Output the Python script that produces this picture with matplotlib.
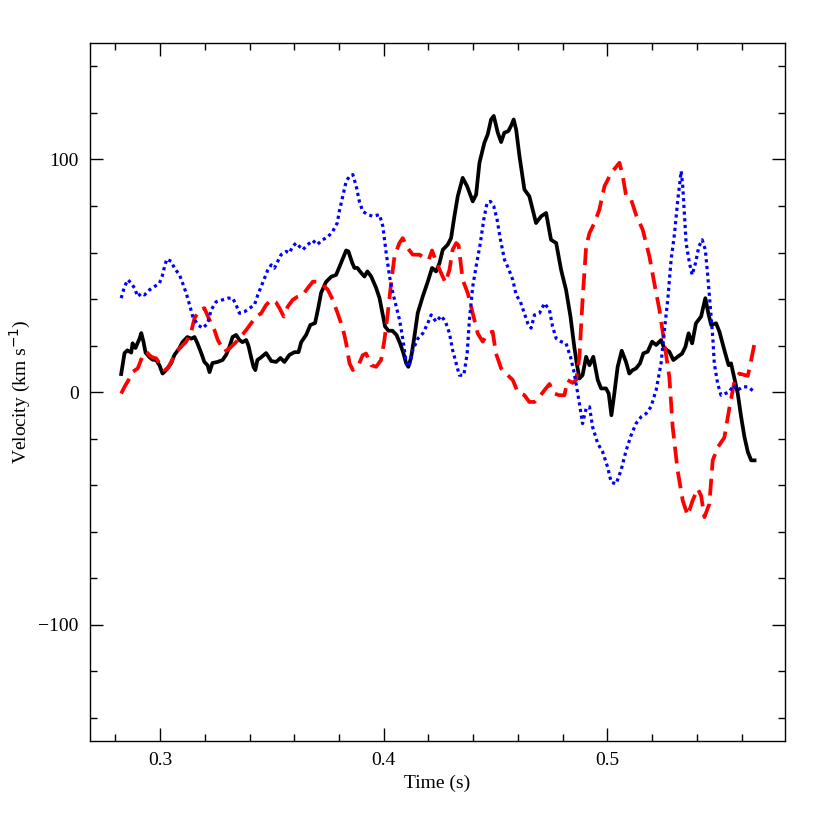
import numpy as np
import matplotlib
matplotlib.use("Agg")
import matplotlib.pyplot as plt
from matplotlib.ticker import MultipleLocator

plt.rcParams["font.family"] = ["Liberation Serif", "DejaVu Serif"]

# solid black series
black_t = [0.2826, 0.2841, 0.2854, 0.2871, 0.2877, 0.2890, 0.2908, 0.2916, 0.2926, 0.2935,
           0.2953, 0.2966, 0.2983, 0.2997, 0.3011, 0.3027, 0.3050, 0.3064, 0.3087, 0.3100,
           0.3122, 0.3139, 0.3154, 0.3167, 0.3184, 0.3198, 0.3212, 0.3221, 0.3234, 0.3257,
           0.3279, 0.3295, 0.3310, 0.3324, 0.3340, 0.3355, 0.3368, 0.3385, 0.3395, 0.3407,
           0.3418, 0.3426, 0.3435, 0.3452, 0.3474, 0.3497, 0.3519, 0.3538, 0.3556, 0.3578,
           0.3601, 0.3619, 0.3631, 0.3653, 0.3672, 0.3693, 0.3708, 0.3720, 0.3742, 0.3765,
           0.3787, 0.3802, 0.3815, 0.3832, 0.3842, 0.3859, 0.3869, 0.3882, 0.3899, 0.3914,
           0.3927, 0.3944, 0.3966, 0.3981, 0.3994, 0.4006, 0.4021, 0.4039, 0.4057, 0.4073,
           0.4088, 0.4100, 0.4110, 0.4122, 0.4137, 0.4152, 0.4174, 0.4197, 0.4216, 0.4234,
           0.4249, 0.4264, 0.4286, 0.4301, 0.4316, 0.4331, 0.4353, 0.4373, 0.4398, 0.4413,
           0.4428, 0.4450, 0.4465, 0.4480, 0.4492, 0.4510, 0.4525, 0.4539, 0.4557, 0.4569,
           0.4581, 0.4592, 0.4607, 0.4629, 0.4651, 0.4681, 0.4704, 0.4726, 0.4748, 0.4771,
           0.4793, 0.4815, 0.4835, 0.4852, 0.4863, 0.4875, 0.4889, 0.4905, 0.4920, 0.4937,
           0.4957, 0.4972, 0.4994, 0.5006, 0.5018, 0.5031, 0.5046, 0.5064, 0.5083, 0.5098,
           0.5113, 0.5128, 0.5146, 0.5161, 0.5180, 0.5200, 0.5218, 0.5240, 0.5255, 0.5277,
           0.5295, 0.5314, 0.5334, 0.5349, 0.5363, 0.5379, 0.5396, 0.5419, 0.5438, 0.5453,
           0.5464, 0.5486, 0.5501, 0.5523, 0.5542, 0.5553, 0.5568, 0.5583, 0.5598, 0.5613,
           0.5628, 0.5643, 0.5658]
black_v = [7.8, 16.8, 18.0, 17.0, 21.0, 19.0, 23.0, 25.4, 21.5, 17.0,
           15.0, 14.0, 13.8, 11.6, 8.0, 9.5, 12.5, 16.0, 19.0, 21.5,
           23.7, 23.0, 23.7, 21.0, 16.8, 13.0, 11.6, 8.6, 12.5, 13.0,
           13.8, 16.0, 19.4, 23.7, 24.6, 22.4, 21.5, 22.4, 20.0, 15.0,
           10.8, 9.5, 13.8, 15.0, 16.8, 13.4, 13.0, 14.7, 13.0, 16.0,
           17.2, 17.2, 21.5, 24.6, 28.9, 29.7, 36.6, 42.7, 47.4, 49.6,
           50.4, 53.9, 56.9, 60.9, 60.5, 55.6, 53.4, 53.4, 51.3, 49.7,
           51.9, 49.7, 44.8, 40.5, 34.0, 28.2, 26.4, 26.4, 24.6, 21.0,
           16.8, 12.5, 10.9, 14.7, 23.8, 34.0, 41.0, 47.5, 53.4, 51.9,
           55.4, 61.2, 63.4, 66.2, 75.6, 84.2, 92.1, 88.5, 82.0, 84.9,
           98.6, 107.2, 110.8, 117.2, 118.7, 111.5, 107.5, 111.5, 112.2, 114.4,
           117.2, 112.9, 101.4, 87.1, 84.2, 72.7, 75.6, 77.0, 65.5, 64.1,
           52.6, 44.0, 32.5, 19.5, 12.4, 5.9, 7.3, 15.2, 11.6, 15.2,
           5.2, 1.6, 1.6, -0.6, -9.9, -0.6, 10.9, 17.8, 13.1, 8.0,
           9.5, 10.2, 12.4, 16.7, 17.4, 21.7, 20.3, 22.4, 18.8, 17.4,
           13.8, 15.2, 16.6, 19.5, 25.3, 21.0, 29.6, 32.5, 40.4, 33.2,
           28.9, 29.6, 26.0, 18.1, 11.6, 12.4, 5.9, -0.6, -10.6, -19.3,
           -25.7, -29.3, -29.3]

# dashed red series
red_t = [0.2826, 0.2841, 0.2863, 0.2878, 0.2900, 0.2923, 0.2938, 0.2960, 0.2983, 0.2997,
         0.3020, 0.3034, 0.3050, 0.3072, 0.3094, 0.3117, 0.3139, 0.3154, 0.3176, 0.3198,
         0.3221, 0.3243, 0.3258, 0.3288, 0.3310, 0.3333, 0.3355, 0.3385, 0.3407, 0.3430,
         0.3452, 0.3474, 0.3497, 0.3519, 0.3534, 0.3553, 0.3571, 0.3593, 0.3616, 0.3638,
         0.3660, 0.3683, 0.3705, 0.3727, 0.3750, 0.3772, 0.3794, 0.3817, 0.3832, 0.3847,
         0.3862, 0.3884, 0.3906, 0.3921, 0.3944, 0.3966, 0.3988, 0.4003, 0.4018, 0.4033,
         0.4048, 0.4070, 0.4085, 0.4107, 0.4130, 0.4160, 0.4182, 0.4201, 0.4216, 0.4234,
         0.4257, 0.4276, 0.4294, 0.4308, 0.4324, 0.4335, 0.4353, 0.4376, 0.4398, 0.4420,
         0.4443, 0.4465, 0.4487, 0.4502, 0.4525, 0.4547, 0.4577, 0.4599, 0.4629, 0.4651,
         0.4674, 0.4696, 0.4719, 0.4741, 0.4763, 0.4785, 0.4808, 0.4822, 0.4845, 0.4860,
         0.4875, 0.4889, 0.4905, 0.4920, 0.4942, 0.4964, 0.4987, 0.5017, 0.5054, 0.5069,
         0.5084, 0.5106, 0.5128, 0.5158, 0.5188, 0.5210, 0.5233, 0.5255, 0.5277, 0.5292,
         0.5314, 0.5337, 0.5359, 0.5381, 0.5404, 0.5419, 0.5434, 0.5456, 0.5471, 0.5494,
         0.5523, 0.5546, 0.5568, 0.5590, 0.5628, 0.5643, 0.5658]
red_v = [-0.6, 2.3, 5.9, 8.8, 10.2, 15.9, 17.4, 15.2, 14.5, 12.4,
         9.5, 10.2, 13.1, 17.4, 19.5, 21.7, 26.0, 31.8, 35.3, 36.1,
         31.0, 26.7, 22.4, 17.4, 18.8, 20.9, 23.1, 26.7, 29.6, 32.5,
         33.9, 37.5, 39.7, 38.5, 36.1, 32.5, 36.8, 39.7, 41.1, 41.8,
         44.7, 47.5, 47.5, 46.1, 44.0, 39.7, 33.9, 27.5, 21.0, 12.4,
         9.5, 10.9, 15.9, 16.6, 11.6, 10.9, 13.8, 22.4, 33.9, 46.8,
         58.3, 64.1, 66.2, 61.9, 59.1, 59.1, 57.6, 56.9, 60.9, 56.2,
         51.1, 47.1, 52.6, 61.2, 64.1, 63.0, 48.3, 42.5, 33.9, 25.3,
         21.7, 25.3, 26.0, 16.6, 10.2, 8.0, 5.2, 0.1, -1.3, -4.2,
         -4.2, -2.0, 0.9, 3.5, -0.6, -1.3, -1.3, 5.2, 4.0, 5.2,
         15.2, 39.7, 62.6, 68.4, 72.7, 78.4, 88.5, 94.2, 98.6, 92.8,
         84.2, 82.8, 76.3, 69.8, 58.3, 46.8, 35.3, 21.0, 6.5, -15.0,
         -33.6, -46.6, -53.0, -46.6, -41.5, -44.5, -53.7, -48.0, -29.3, -23.6,
         -19.5, -6.5, 4.5, 8.0, 7.0, 13.8, 21.0]

# dotted blue series
blue_t = [0.2826, 0.2841, 0.2856, 0.2871, 0.2886, 0.2900, 0.2916, 0.2930, 0.2953, 0.2975,
          0.2997, 0.3009, 0.3020, 0.3030, 0.3050, 0.3064, 0.3087, 0.3101, 0.3117, 0.3132,
          0.3146, 0.3169, 0.3191, 0.3213, 0.3228, 0.3251, 0.3280, 0.3303, 0.3325, 0.3340,
          0.3355, 0.3378, 0.3400, 0.3422, 0.3437, 0.3452, 0.3467, 0.3482, 0.3497, 0.3511,
          0.3526, 0.3541, 0.3564, 0.3578, 0.3593, 0.3608, 0.3638, 0.3660, 0.3683, 0.3702,
          0.3727, 0.3750, 0.3772, 0.3792, 0.3802, 0.3817, 0.3832, 0.3847, 0.3862, 0.3877,
          0.3891, 0.3906, 0.3929, 0.3951, 0.3981, 0.3996, 0.4011, 0.4026, 0.4041, 0.4056,
          0.4071, 0.4086, 0.4101, 0.4113, 0.4130, 0.4153, 0.4175, 0.4197, 0.4212, 0.4234,
          0.4257, 0.4276, 0.4294, 0.4308, 0.4324, 0.4338, 0.4358, 0.4373, 0.4383, 0.4398,
          0.4413, 0.4432, 0.4447, 0.4462, 0.4477, 0.4492, 0.4507, 0.4522, 0.4540, 0.4557,
          0.4577, 0.4592, 0.4611, 0.4629, 0.4644, 0.4659, 0.4674, 0.4696, 0.4719, 0.4741,
          0.4755, 0.4771, 0.4793, 0.4815, 0.4835, 0.4849, 0.4860, 0.4875, 0.4889, 0.4905,
          0.4920, 0.4934, 0.4957, 0.4979, 0.5001, 0.5017, 0.5039, 0.5061, 0.5084, 0.5106,
          0.5128, 0.5151, 0.5173, 0.5195, 0.5218, 0.5240, 0.5255, 0.5270, 0.5285, 0.5300,
          0.5315, 0.5330, 0.5337, 0.5345, 0.5352, 0.5367, 0.5379, 0.5394, 0.5409, 0.5424,
          0.5438, 0.5449, 0.5459, 0.5471, 0.5478, 0.5493, 0.5508, 0.5527, 0.5545, 0.5563,
          0.5583, 0.5605, 0.5628, 0.5647, 0.5658]
blue_v = [40.4, 45.4, 48.3, 46.8, 44.7, 41.1, 42.5, 41.8, 44.0, 45.4,
          46.8, 49.7, 54.0, 57.2, 56.2, 53.3, 50.4, 46.8, 42.5, 37.5,
          32.5, 28.9, 27.5, 29.6, 35.3, 38.9, 39.7, 40.4, 40.4, 37.5,
          33.9, 34.6, 36.1, 37.5, 41.8, 45.4, 49.0, 52.6, 54.7, 53.3,
          56.2, 59.1, 60.5, 59.8, 62.6, 64.1, 61.2, 63.4, 65.2, 63.4,
          65.5, 66.7, 69.1, 72.7, 78.0, 84.2, 90.6, 92.8, 93.5, 88.5,
          82.0, 77.7, 76.3, 75.6, 76.3, 71.3, 59.8, 49.7, 42.5, 36.8,
          31.0, 22.4, 12.4, 10.9, 18.1, 23.1, 25.3, 29.6, 33.2, 30.3,
          32.8, 30.3, 25.3, 18.1, 12.4, 7.3, 7.3, 16.6, 31.0, 45.4,
          54.0, 64.1, 74.1, 81.3, 82.0, 79.9, 74.1, 65.5, 56.9, 53.3,
          48.3, 41.8, 38.9, 33.9, 29.6, 27.5, 33.2, 33.9, 38.2, 35.3,
          28.2, 23.1, 21.7, 21.0, 15.2, 9.5, 3.7, -4.9, -13.5, -7.0,
          -6.3, -15.0, -22.1, -25.7, -32.2, -38.7, -39.4, -33.6, -25.0, -18.5,
          -13.5, -10.6, -9.2, -6.3, 0.9, 12.4, 26.7, 39.7, 57.0, 68.0,
          82.8, 95.0, 88.5, 75.6, 64.1, 55.5, 50.4, 55.5, 62.6, 65.5,
          61.2, 49.7, 38.2, 23.8, 12.4, 3.7, -1.3, -0.6, 0.1, 3.0,
          0.9, 2.3, 2.3, 0.9, 0.1]

fig = plt.figure(figsize=(8.3, 8.3), dpi=100)
ax = fig.add_axes([0.108, 0.107, 0.838, 0.841])

ax.plot(black_t, black_v, color="black", lw=2.7, solid_joinstyle="round")
ax.plot(red_t, red_v, color="red", lw=2.7, linestyle=(0, (4.5, 2.2)))
ax.plot(blue_t, blue_v, color="blue", lw=2.3, linestyle=(0, (1, 1.1)))

ax.set_xlim(0.2685, 0.5795)
ax.set_ylim(-150, 150)
ax.xaxis.set_major_locator(MultipleLocator(0.1))
ax.xaxis.set_minor_locator(MultipleLocator(0.02))
ax.yaxis.set_major_locator(MultipleLocator(100))
ax.yaxis.set_minor_locator(MultipleLocator(20))
ax.tick_params(which="both", direction="in", top=True, right=True, width=1,
               labelsize=14, pad=8)
ax.tick_params(which="major", length=9.5)
ax.tick_params(which="minor", length=5)
for s in ax.spines.values():
    s.set_linewidth(1)

ax.set_xlabel("Time (s)", fontsize=14, labelpad=4)
ax.set_ylabel("Velocity (km s$^{-1}$)", fontsize=14, labelpad=4)

fig.savefig("out.png", dpi=100)
